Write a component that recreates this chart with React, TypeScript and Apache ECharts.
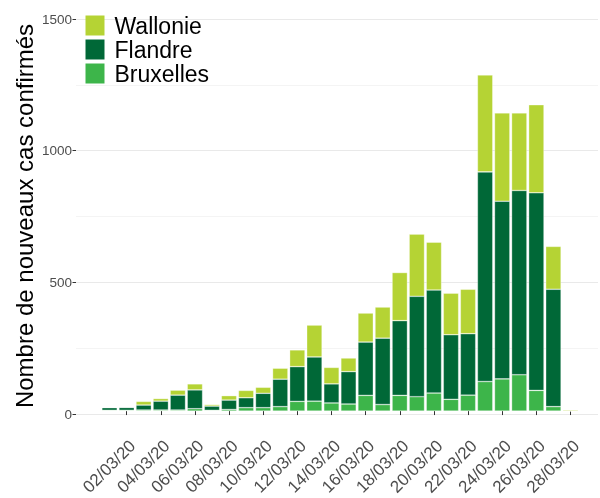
import React, { useEffect, useRef } from "react";
import * as echarts from "echarts";

const dates = [
  "01/03/20", "02/03/20", "03/03/20", "04/03/20", "05/03/20", "06/03/20", "07/03/20",
  "08/03/20", "09/03/20", "10/03/20", "11/03/20", "12/03/20", "13/03/20", "14/03/20",
  "15/03/20", "16/03/20", "17/03/20", "18/03/20", "19/03/20", "20/03/20", "21/03/20",
  "22/03/20", "23/03/20", "24/03/20", "25/03/20", "26/03/20", "27/03/20", "28/03/20",
];

const bruxelles = [3, 3, 4, 4, 4, 9, 3, 6, 13, 13, 17, 37, 38, 31, 27, 60, 25, 60, 55, 69, 45, 61, 113, 123, 139, 79, 17, 0];
const flandre = [10, 11, 19, 34, 57, 72, 16, 36, 38, 55, 105, 133, 169, 73, 124, 204, 254, 286, 384, 394, 247, 235, 802, 680, 705, 756, 449, 0];
const wallonie = [2, 1, 14, 10, 19, 23, 6, 17, 28, 23, 42, 64, 122, 63, 52, 111, 119, 184, 238, 183, 159, 170, 371, 338, 297, 337, 164, 4];

const yTicks = [0, 500, 1000, 1500];

const FONT = "'Liberation Sans', Arial, sans-serif";
const COLORS = { wal: "#b5d334", fla: "#006837", bru: "#3db54a" };

export default function App() {
  const ref = useRef<HTMLDivElement>(null);

  useEffect(() => {
    if (!ref.current) return;
    const chart = echarts.init(ref.current, null, { renderer: "svg" });
    const everyOther = (i: number) => i % 2 === 1;
    const barStyle = (c: string) => ({
      color: c,
      borderColor: "rgba(255,255,255,0.55)",
      borderWidth: 0.6,
    });
    chart.setOption({
      animation: false,
      textStyle: { fontFamily: FONT },
      grid: [
        { left: 101, right: 21, top: 19, bottom: 84 },
        { left: 76, right: 2, top: 19, bottom: 84 },
      ],
      legend: {
        data: ["Wallonie", "Flandre", "Bruxelles"],
        orient: "vertical",
        left: 85.5,
        top: 14,
        padding: 0,
        icon: "rect",
        itemWidth: 19,
        itemHeight: 20,
        itemGap: 1,
        itemStyle: { borderWidth: 0 },
        textStyle: { fontSize: 23, lineHeight: 22, color: "#000", padding: [0, 0, 0, 5], fontFamily: FONT },
      },
      xAxis: [
        {
          type: "category",
          gridIndex: 0,
          data: dates,
          offset: 19.5,
          axisLine: { show: false },
          axisTick: {
            show: true,
            alignWithLabel: true,
            interval: everyOther,
            length: 4,
            lineStyle: { color: "#333" },
          },
          axisLabel: {
            interval: everyOther,
            rotate: 45,
            fontSize: 17,
            color: "#4d4d4d",
            margin: 6.5,
            align: "right",
            verticalAlign: "top",
            fontFamily: FONT,
          },
          splitLine: { show: false },
        },
        { type: "value", gridIndex: 1, show: false, min: 0, max: 1 },
      ],
      yAxis: [
        { type: "value", gridIndex: 0, min: yTicks[0], max: yTicks[yTicks.length - 1], interval: 500, show: false },
        {
          type: "value",
          gridIndex: 1,
          min: yTicks[0],
          max: yTicks[yTicks.length - 1],
          interval: 500,
          axisLine: { show: false },
          axisTick: { show: true, length: 3.5, lineStyle: { color: "#333" } },
          axisLabel: {
            fontSize: 13.5,
            color: "#4d4d4d",
            margin: 4,
            fontFamily: FONT,
            formatter: (v: number) => String(v),
          },
          splitLine: { show: true, lineStyle: { color: "#e9e9e9", width: 1 } },
          minorTick: { show: false, splitNumber: 2 },
          minorSplitLine: { show: true, lineStyle: { color: "#f4f4f4", width: 1 } },
        },
      ],
      graphic: [
        {
          type: "text",
          x: 24,
          y: 216,
          rotation: Math.PI / 2,
          style: {
            text: "Nombre de nouveaux cas confirmés",
            fontSize: 24,
            fontFamily: FONT,
            fill: "#000",
            textAlign: "center",
            textVerticalAlign: "middle",
          },
        },
      ],
      series: [
        { name: "Bruxelles", type: "bar", stack: "t", xAxisIndex: 0, yAxisIndex: 0, barWidth: "90%", data: bruxelles, itemStyle: barStyle(COLORS.bru) },
        { name: "Flandre", type: "bar", stack: "t", xAxisIndex: 0, yAxisIndex: 0, barWidth: "90%", data: flandre, itemStyle: barStyle(COLORS.fla) },
        { name: "Wallonie", type: "bar", stack: "t", xAxisIndex: 0, yAxisIndex: 0, barWidth: "90%", data: wallonie, itemStyle: barStyle(COLORS.wal) },
      ],
    });
    return () => chart.dispose();
  }, []);

  return <div ref={ref} style={{ position: "fixed", left: 0, top: 0, width: 600, height: 498 }} />;
}
